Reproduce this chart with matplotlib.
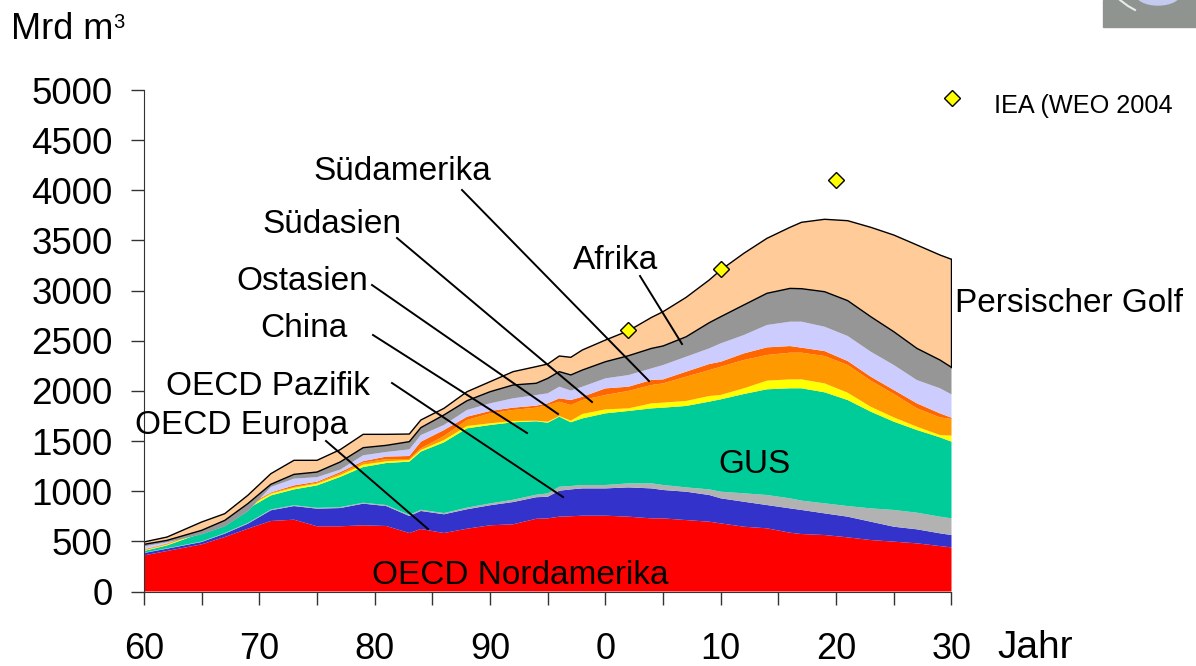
import numpy as np
import matplotlib
matplotlib.use("Agg")
import matplotlib.pyplot as plt
from matplotlib.lines import Line2D
from matplotlib.patches import Rectangle, Ellipse

plt.rcParams['font.family'] = ['Liberation Sans', 'DejaVu Sans']

W, H = 1196, 666

years = [1960, 1962, 1965, 1967, 1969, 1971, 1973, 1975, 1977, 1979, 1981, 1983, 1984, 1986,
         1988, 1990, 1992, 1994, 1995, 1996, 1997, 1998, 2000, 2002, 2004, 2005, 2007, 2009,
         2010, 2012, 2014, 2016, 2017, 2019, 2021, 2023, 2025, 2027, 2029, 2030]

# upper edge of each band (cumulative, Mrd m3)
top_nordamerika = [360, 404, 470, 543, 626, 703, 716, 650, 650, 660, 653, 583, 623, 583,
                   626, 660, 670, 725, 729, 746, 750, 756, 756, 746, 729, 729, 712, 696,
                   679, 646, 630, 586, 573, 563, 540, 513, 497, 480, 453, 440]
top_europa = [384, 427, 494, 577, 676, 810, 852, 826, 832, 876, 852, 753, 803, 770,
              820, 860, 892, 940, 945, 1005, 1018, 1028, 1028, 1038, 1028, 1012, 995, 962,
              929, 895, 862, 829, 813, 779, 746, 696, 646, 620, 580, 563]
top_pazifik = [387, 431, 499, 583, 683, 818, 860, 834, 841, 885, 862, 764, 815, 782,
               836, 878, 915, 965, 978, 1045, 1052, 1062, 1062, 1078, 1078, 1062, 1038, 1018,
               995, 979, 962, 929, 906, 879, 852, 829, 813, 786, 746, 729]
top_gus = [404, 460, 583, 670, 826, 958, 1018, 1058, 1142, 1241, 1281, 1295, 1395, 1487,
           1627, 1660, 1687, 1697, 1683, 1743, 1687, 1726, 1776, 1800, 1826, 1833, 1850, 1893,
           1916, 1969, 2016, 2026, 2026, 1986, 1909, 1793, 1693, 1610, 1537, 1494]
top_china = [410, 468, 592, 682, 842, 975, 1035, 1075, 1160, 1265, 1298, 1311, 1411, 1510,
             1650, 1677, 1700, 1703, 1693, 1750, 1703, 1770, 1816, 1826, 1876, 1883, 1900, 1949,
             1960, 2026, 2102, 2115, 2115, 2075, 1982, 1842, 1736, 1643, 1560, 1554]
top_ostasien = [415, 472, 598, 690, 850, 982, 1042, 1085, 1175, 1285, 1320, 1321, 1428, 1550,
                1710, 1776, 1810, 1833, 1859, 1892, 1859, 1909, 1960, 2000, 2059, 2075, 2142, 2208,
                2241, 2308, 2358, 2381, 2381, 2348, 2258, 2102, 1969, 1826, 1736, 1720]
top_suedasien = [420, 478, 604, 698, 860, 988, 1058, 1095, 1190, 1300, 1345, 1351, 1494, 1610,
                 1743, 1800, 1833, 1853, 1876, 1926, 1909, 1942, 2025, 2042, 2109, 2115, 2192, 2268,
                 2291, 2374, 2434, 2447, 2431, 2397, 2298, 2142, 2009, 1876, 1776, 1733]
top_suedamerika = [450, 490, 570, 650, 800, 1042, 1125, 1140, 1215, 1358, 1391, 1417, 1560, 1660,
                   1810, 1876, 1926, 1959, 1976, 2042, 2003, 2042, 2125, 2158, 2225, 2258, 2341, 2424,
                   2474, 2557, 2657, 2690, 2690, 2640, 2547, 2391, 2258, 2108, 2026, 1965]
top_afrika = [470, 510, 610, 709, 876, 1069, 1168, 1191, 1291, 1434, 1457, 1494, 1634, 1760,
              1902, 1992, 2059, 2076, 2125, 2192, 2159, 2208, 2291, 2351, 2424, 2448, 2540, 2680,
              2740, 2857, 2973, 3022, 3019, 2989, 2900, 2740, 2590, 2424, 2308, 2235]
top_golf = [494, 543, 693, 776, 959, 1175, 1308, 1308, 1414, 1567, 1567, 1570, 1710, 1826,
            1992, 2092, 2192, 2242, 2268, 2348, 2335, 2408, 2507, 2600, 2733, 2790, 2933, 3106,
            3206, 3372, 3521, 3631, 3681, 3711, 3697, 3631, 3554, 3455, 3355, 3312]

iea_years = [2002, 2010, 2020]
iea_values = [2610, 3220, 4100]

band_colors = ['#FF0000', '#3333CC', '#B2B2B2', '#00CC99', '#FFFF00',
               '#FF9900', '#FF6600', '#CCCCFF', '#969696', '#FFCC99']

y_ticks = list(range(0, 5001, 500))
x_ticks = list(range(1960, 2031, 5))
x_labels = ['60', '', '70', '', '80', '', '90', '', '0', '', '10', '', '20', '', '30']

# text, left edge px, baseline px
labels = [('Südamerika', 313, 180), ('Südasien', 262, 233), ('Ostasien', 236, 290),
          ('China', 260, 337), ('OECD Pazifik', 166, 395), ('OECD Europa', 135, 434),
          ('Afrika', 573, 269), ('Persischer Golf', 955, 312), ('GUS', 718, 473),
          ('OECD Nordamerika', 372, 584)]

# leader lines in px
leaders = [((462, 190), (649, 381)), ((397, 238), (592, 402)), ((372, 285), (558, 414)),
           ((373, 335), (527, 433)), ((392, 383), (563, 497)), ((326, 441), (428, 529)),
           ((640, 276), (682, 344))]


def fx(x):
    return x / W


def fy(y):
    return 1 - y / H


fig = plt.figure(figsize=(W / 100, H / 100), dpi=100)
ax = fig.add_axes([fx(144), fy(591.5), (951.5 - 144) / W, (591.5 - 90) / H])

tops = np.array([top_nordamerika, top_europa, top_pazifik, top_gus, top_china,
                 top_ostasien, top_suedasien, top_suedamerika, top_afrika, top_golf])
bands = np.diff(np.vstack([np.zeros(len(years)), tops]), axis=0)
ax.stackplot(years, bands, colors=band_colors, linewidth=0)

ax.plot(years, top_afrika, color='black', lw=1)
ax.plot(years, top_golf, color='black', lw=1)
ax.plot([years[-1], years[-1]], [top_afrika[-1], top_golf[-1]], color='black', lw=1)
ax.plot(iea_years, iea_values, ls='none', marker='D', ms=8, mfc='#FFFF00', mec='black', mew=1, clip_on=False)

ax.set_xlim(1960, 2030)
ax.set_ylim(0, 5000)
ax.set_xticks(x_ticks)
ax.set_xticklabels(x_labels)
ax.set_yticks(y_ticks)
ax.tick_params(axis='y', length=9.5, width=1, color='#333333', labelsize=26.5, pad=13)
ax.tick_params(axis='x', length=9.5, width=1, color='#333333', labelsize=26, pad=20)
for s in ['top', 'right']:
    ax.spines[s].set_visible(False)
for s in ['left', 'bottom']:
    ax.spines[s].set_color('#333333')

for txt, x, y in labels:
    fig.text(fx(x), fy(y), txt, fontsize=24, ha='left', va='baseline')
for (x0, y0), (x1, y1) in leaders:
    fig.add_artist(Line2D([fx(x0), fx(x1)], [fy(y0), fy(y1)], color='black', lw=1.4))

fig.text(fx(11), fy(39), 'Mrd m', fontsize=26, ha='left', va='baseline')
fig.text(fx(113), fy(28), '3', fontsize=14.5, ha='left', va='baseline')
fig.text(fx(997), fy(658), 'Jahr', fontsize=28, ha='left', va='baseline')
fig.text(fx(994), fy(113), 'IEA (WEO 2004', fontsize=18.2, ha='left', va='baseline')
fig.add_artist(Line2D([fx(952)], [fy(98)], marker='D', ms=8, mfc='#FFFF00', mec='black', mew=1, ls='none'))

# small photo cut off in the corner
fig.add_artist(Rectangle((fx(1103), fy(27)), 93 / W, 27 / H, color='#8F9490', transform=fig.transFigure))
fig.add_artist(Ellipse((fx(1158), fy(-6)), 44 / W, 22 / H, color='#C5CBEF', transform=fig.transFigure))
fig.add_artist(Line2D([fx(1120), fx(1128), fx(1135)], [fy(0), fy(6), fy(10)], color='#E8ECE8', lw=1.5))

fig.savefig('out.png', dpi=100)
